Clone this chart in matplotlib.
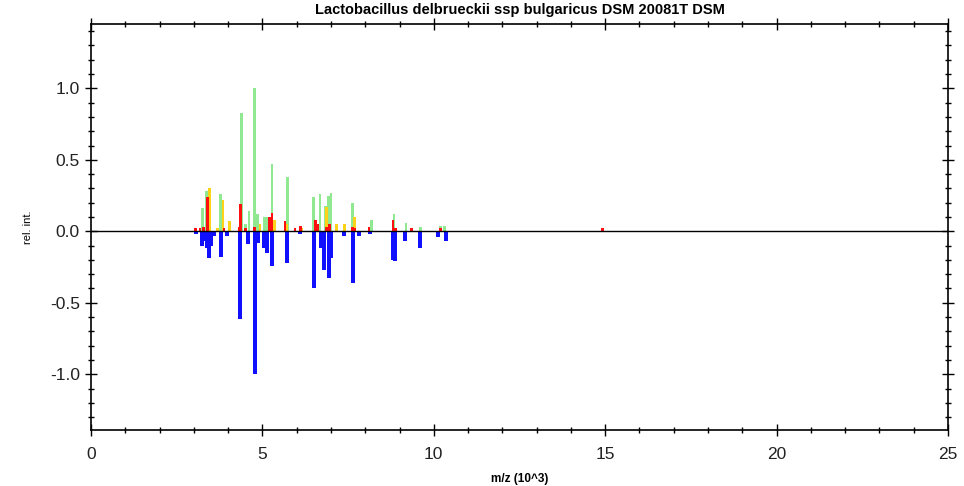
import numpy as np
import matplotlib
matplotlib.use('Agg')
import matplotlib.pyplot as plt
from matplotlib.ticker import MultipleLocator

plt.rcParams['font.family'] = ['Liberation Sans', 'DejaVu Sans']
plt.rcParams['axes.unicode_minus'] = False

# reference spectra (upper half), m/z in 10^3
green_mz = [3.24, 3.38, 3.47, 3.79, 4.38, 4.5, 4.61, 4.76, 4.85, 5.05, 5.13, 5.28, 5.72,
            6.48, 6.68, 6.83, 6.94, 7.0, 7.64, 8.17, 8.84, 9.19, 9.6, 10.2, 10.32]
green_int = [0.16, 0.28, 0.27, 0.26, 0.83, 0.05, 0.14, 1.0, 0.12, 0.1, 0.1, 0.47, 0.38,
             0.24, 0.26, 0.18, 0.25, 0.27, 0.2, 0.08, 0.12, 0.06, 0.03, 0.04, 0.04]

yellow_mz = [3.45, 3.68, 3.85, 4.05, 4.93, 5.35, 5.69, 6.13, 6.88, 7.15, 7.4, 7.7, 8.84]
yellow_int = [0.3, 0.02, 0.22, 0.07, 0.05, 0.08, 0.05, 0.02, 0.17, 0.05, 0.05, 0.1, 0.02]

red_mz = [3.06, 3.18, 3.27, 3.41, 3.88, 4.34, 4.37, 4.5, 4.76, 5.22, 5.28, 5.66, 5.95,
          6.1, 6.56, 6.62, 6.86, 6.97, 7.62, 7.7, 8.11, 8.81, 8.89, 9.36, 10.2, 14.93]
red_int = [0.02, 0.02, 0.03, 0.24, 0.02, 0.03, 0.19, 0.02, 0.03, 0.1, 0.13, 0.07, 0.02,
           0.04, 0.08, 0.05, 0.03, 0.05, 0.03, 0.02, 0.03, 0.08, 0.02, 0.02, 0.02, 0.02]

# sample spectrum (mirrored, lower half)
blue_mz = [3.06, 3.24, 3.33, 3.38, 3.44, 3.5, 3.59, 3.79, 3.97, 4.35, 4.58, 4.78, 4.87,
           5.05, 5.13, 5.28, 5.72, 6.1, 6.5, 6.71, 6.8, 6.94, 7.0, 7.38, 7.64, 7.82,
           8.14, 8.81, 8.87, 9.16, 9.6, 10.12, 10.36]
blue_int = [-0.02, -0.1, -0.07, -0.12, -0.19, -0.1, -0.03, -0.18, -0.03, -0.61, -0.09, -1.0, -0.08,
            -0.12, -0.15, -0.24, -0.22, -0.02, -0.4, -0.12, -0.27, -0.33, -0.19, -0.03, -0.36, -0.03,
            -0.02, -0.2, -0.21, -0.07, -0.12, -0.04, -0.07]

fig = plt.figure(figsize=(9.64, 4.86), dpi=100)
ax = fig.add_axes([0.0944, 0.1152, 0.889, 0.8354])

w = 0.085
ax.bar(green_mz, green_int, width=w, color='#90e890', linewidth=0)
ax.bar(yellow_mz, yellow_int, width=w, color='#ffd21a', linewidth=0)
ax.bar(red_mz, red_int, width=w, color='#ff1010', linewidth=0)
ax.bar(blue_mz, blue_int, width=0.1, color='#1010ff', linewidth=0)
ax.axhline(0, color='black', linewidth=1.0)

ax.set_xlim(0, 25)
ax.set_ylim(-1.39, 1.45)
ax.xaxis.set_major_locator(MultipleLocator(5))
ax.xaxis.set_minor_locator(MultipleLocator(1))
ax.yaxis.set_major_locator(MultipleLocator(0.5))
ax.yaxis.set_minor_locator(MultipleLocator(0.1))

ax.tick_params(axis='both', which='major', direction='inout', length=9, width=1,
               labelsize=12.5, labelcolor='#222222', top=True, right=True)
ax.tick_params(axis='both', which='minor', direction='inout', length=5, width=1,
               top=True, right=True)
ax.tick_params(axis='x', which='major', pad=8)
for s in ax.spines.values():
    s.set_linewidth(1.2)

ax.set_title('Lactobacillus delbrueckii ssp bulgaricus DSM 20081T DSM',
             fontsize=10.5, fontweight='bold', pad=7)
ax.set_xlabel('m/z (10^3)', fontsize=8.5, fontweight='bold', labelpad=8)
ax.set_ylabel('rel. int.', fontsize=8, labelpad=12)

fig.savefig('out.png', dpi=100)
